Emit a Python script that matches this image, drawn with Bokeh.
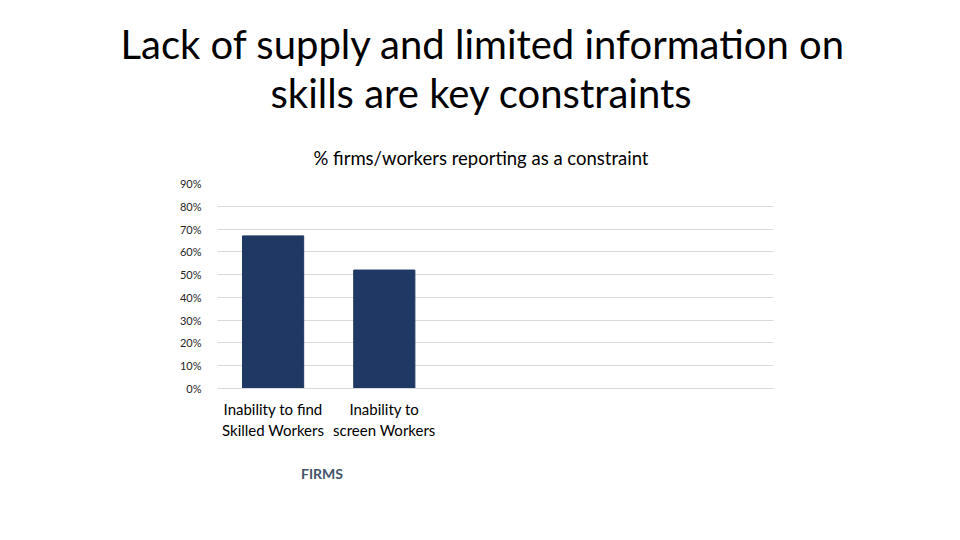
from bokeh.embed import file_html
from bokeh.resources import INLINE
from bokeh.plotting import figure
from bokeh.models import Title, NumeralTickFormatter, FixedTicker, LinearAxis

# data
categories = ["Inability to find\nSkilled Workers", "Inability to\nscreen Workers", "", "", ""]
share = [0.67, 0.52]
yticks = [0.0, 0.1, 0.2, 0.3, 0.4, 0.5, 0.6, 0.7, 0.8, 0.9]
group_label = "FIRMS"
group_center = 0.94
title_lines = ["Lack of supply and limited information on", "skills are key constraints"]
subtitle = "% firms/workers reporting as a constraint"

FONT = "Lato"
W, H = 944, 524

p = figure(width=W, height=H, x_range=(0, len(categories)), y_range=(0, 0.9),
           output_backend="svg", toolbar_location=None, tools="")
p.min_border_left = 217
p.min_border_right = 171
p.min_border_top = 183
p.min_border_bottom = 136
p.outline_line_color = None
p.background_fill_color = "white"
p.border_fill_color = "white"

xs = [i + 0.5 for i in range(len(share))]
p.vbar(x=xs, top=share, width=0.55, color="#203864")

p.xgrid.grid_line_color = None
p.ygrid.grid_line_color = "#d9d9d9"
p.ygrid.ticker = FixedTicker(ticks=yticks)

p.yaxis.ticker = FixedTicker(ticks=yticks)
p.yaxis.formatter = NumeralTickFormatter(format="0%")
p.yaxis.axis_line_color = None
p.yaxis.major_tick_line_color = None
p.yaxis.minor_tick_line_color = None
p.yaxis.major_label_text_font = FONT
p.yaxis.major_label_text_font_size = "11px"
p.yaxis.major_label_text_color = "#262626"
p.yaxis.major_label_standoff = 10

p.xaxis.ticker = FixedTicker(ticks=xs)
p.xaxis.major_label_overrides = {x: categories[i] for i, x in enumerate(xs)}
p.xaxis.axis_line_color = "#d9d9d9"
p.xaxis.major_tick_line_color = None
p.xaxis.minor_tick_line_color = None
p.xaxis.major_label_text_font = FONT
p.xaxis.major_label_text_font_size = "15px"
p.xaxis.major_label_text_color = "#000000"
p.xaxis.major_label_standoff = 5

# group label as a second axis below the categories
group_axis = LinearAxis(ticker=FixedTicker(ticks=[group_center]),
                        major_label_overrides={group_center: group_label})
group_axis.axis_line_color = None
group_axis.major_tick_line_color = None
group_axis.minor_tick_line_color = None
group_axis.major_label_text_font = FONT
group_axis.major_label_text_font_size = "14px"
group_axis.major_label_text_font_style = "bold"
group_axis.major_label_text_color = "#44546a"
group_axis.major_label_standoff = 16
p.add_layout(group_axis, "below")

# titles: left aligned to the frame, shifted so that they centre at x=480
p.add_layout(Title(text=subtitle, align="left", offset=96, text_font=FONT, text_font_size="18.5px",
                   text_font_style="normal", text_color="#000000", standoff=30), "above")
p.add_layout(Title(text=title_lines[1], align="left", offset=53, text_font=FONT, text_font_size="40px",
                   text_font_style="normal", text_color="#000000", standoff=25), "above")
p.add_layout(Title(text=title_lines[0], align="left", offset=-97, text_font=FONT, text_font_size="40px",
                   text_font_style="normal", text_color="#000000", standoff=-27), "above")

open("out.html", "w").write(file_html(p, INLINE))
